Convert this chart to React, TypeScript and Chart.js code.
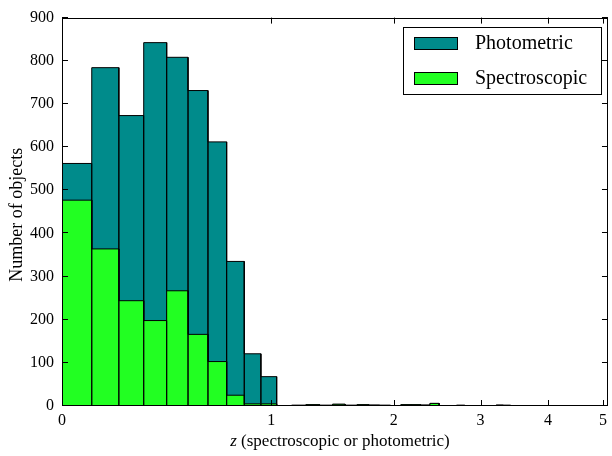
import React, { useEffect, useRef } from 'react';
import { Chart, registerables } from 'chart.js';

Chart.register(...registerables);

// ---------------- data ----------------
const BIN_WIDTH_Z = 0.1036; // width of each redshift bin
const SPECTROSCOPIC_COUNTS = [
  477, 364, 244, 198, 267, 166, 103, 25, 5, 5,
  0, 1, 3, 1, 4, 1, 3, 2, 1, 0,
  3, 3, 2, 6, 1, 0, 1, 0, 0, 0,
  1, 2, 1, 1, 0, 0, 0, 0, 0, 0,
  0, 0, 0, 1, 0, 0, 0, 0, 0,
];
const PHOTOMETRIC_COUNTS = [
  85, 420, 429, 644, 541, 565, 509, 310, 116, 63,
  0, 1, 0, 1, 0, 1, 0, 0, 1, 0,
  0, 0, 0, 0, 0, 0, 1, 0, 0, 0,
  0, 0, 1, 0, 0, 0, 0, 0, 0, 0,
  0, 0, 0, 0, 0, 0, 0, 0, 0,
];
const X_TICK_LABELS = [0, 1, 2, 3, 4, 5];
const Y_TICK_LABELS = [0, 100, 200, 300, 400, 500, 600, 700, 800, 900];
const X_MAX_Z = 5.1;
const Y_MAX = 900;
const SERIES_NAMES = ['Photometric', 'Spectroscopic'];
const X_LABEL_ITALIC = 'z';
const X_LABEL_REST = ' (spectroscopic or photometric)';
const Y_LABEL = 'Number of objects';

// ---------------- styles ----------------
const TEAL = '#008b8b';
const LIME = '#22ff22';
const FONT = '"Liberation Serif", "Times New Roman", serif';

const toAxis = (z: number) => Math.log10(1 + z);

function histPath(heights: number[]) {
  const pts: { x: number; y: number }[] = [];
  heights.forEach((h, i) => {
    const x0 = toAxis(i * BIN_WIDTH_Z);
    const x1 = toAxis((i + 1) * BIN_WIDTH_Z);
    pts.push({ x: x0, y: 0 }, { x: x0, y: h }, { x: x1, y: h }, { x: x1, y: 0 });
  });
  return pts;
}

const framePlugin = {
  id: 'frameAndLabels',
  afterDraw(chart: any) {
    const { ctx, chartArea } = chart;
    const { left, right, top, bottom } = chartArea;
    const xs = chart.scales.x;
    const ys = chart.scales.y;
    ctx.save();
    ctx.strokeStyle = '#000';
    ctx.lineWidth = 1;
    // frame
    ctx.strokeRect(Math.round(left) + 0.5, Math.round(top) + 0.5, Math.round(right - left) - 1, Math.round(bottom - top) - 1);
    // inward ticks
    const TL = 6;
    ctx.beginPath();
    X_TICK_LABELS.forEach((z) => {
      const px = Math.round(xs.getPixelForValue(toAxis(z))) + 0.5;
      ctx.moveTo(px, bottom);
      ctx.lineTo(px, bottom - TL);
      ctx.moveTo(px, top);
      ctx.lineTo(px, top + TL);
    });
    Y_TICK_LABELS.forEach((v) => {
      const py = Math.round(ys.getPixelForValue(v)) - 0.5;
      ctx.moveTo(left, py);
      ctx.lineTo(left + TL, py);
      ctx.moveTo(right, py);
      ctx.lineTo(right - TL, py);
    });
    ctx.stroke();

    // x label with italic z
    ctx.fillStyle = '#000';
    ctx.textBaseline = 'alphabetic';
    ctx.textAlign = 'left';
    const fsx = 17;
    ctx.font = `italic ${fsx}px ${FONT}`;
    const w1 = ctx.measureText(X_LABEL_ITALIC).width;
    ctx.font = `${fsx}px ${FONT}`;
    const w2 = ctx.measureText(X_LABEL_REST).width;
    const cx = (left + right) / 2 + 5;
    const x0 = cx - (w1 + w2) / 2;
    const baseY = bottom + 40;
    ctx.font = `italic ${fsx}px ${FONT}`;
    ctx.fillText(X_LABEL_ITALIC, x0, baseY);
    ctx.font = `${fsx}px ${FONT}`;
    ctx.fillText(X_LABEL_REST, x0 + w1, baseY);

    // y label
    ctx.save();
    ctx.translate(17, (top + bottom) / 2 + 3);
    ctx.rotate(-Math.PI / 2);
    ctx.textAlign = 'center';
    ctx.textBaseline = 'middle';
    ctx.font = `18px ${FONT}`;
    ctx.fillText(Y_LABEL, 0, 0);
    ctx.restore();

    // legend
    const bw = 198;
    const bh = 67;
    const bx = Math.round(right) - 7 - bw;
    const by = Math.round(top) + 9;
    ctx.fillStyle = '#fff';
    ctx.fillRect(bx, by, bw, bh);
    ctx.strokeRect(bx + 0.5, by + 0.5, bw, bh);
    const colors = [TEAL, LIME];
    SERIES_NAMES.forEach((name, i) => {
      const cy = by + 16 + i * 35;
      ctx.fillStyle = colors[i];
      ctx.fillRect(bx + 11, cy - 6, 43, 12);
      ctx.strokeRect(bx + 11.5, cy - 5.5, 43, 12);
      ctx.fillStyle = '#000';
      ctx.font = `20px ${FONT}`;
      ctx.textAlign = 'left';
      ctx.textBaseline = 'middle';
      ctx.fillText(name, bx + 72, cy + 1);
    });
    ctx.restore();
  },
};

export default function App() {
  const canvasRef = useRef<HTMLCanvasElement | null>(null);

  useEffect(() => {
    if (!canvasRef.current) return;
    const totals = PHOTOMETRIC_COUNTS.map((p, i) => p + SPECTROSCOPIC_COUNTS[i]);
    const chart = new Chart(canvasRef.current, {
      type: 'line',
      data: {
        datasets: [
          {
            label: SERIES_NAMES[1],
            data: histPath(SPECTROSCOPIC_COUNTS),
            backgroundColor: LIME,
            borderColor: '#000',
            borderWidth: 1,
            fill: 'origin',
            pointRadius: 0,
            tension: 0,
          },
          {
            label: SERIES_NAMES[0],
            data: histPath(totals),
            backgroundColor: TEAL,
            borderColor: '#000',
            borderWidth: 1,
            fill: 'origin',
            pointRadius: 0,
            tension: 0,
          },
        ],
      },
      options: {
        animation: false,
        responsive: false,
        devicePixelRatio: 1,
        layout: { padding: { left: 0, top: 15, right: 2, bottom: 0 } },
        plugins: { legend: { display: false }, tooltip: { enabled: false } },
        scales: {
          x: {
            type: 'linear',
            min: 0,
            max: toAxis(X_MAX_Z),
            grid: { display: false, drawTicks: false },
            border: { display: false },
            afterBuildTicks: (s: any) => {
              s.ticks = X_TICK_LABELS.map((z) => ({ value: toAxis(z) }));
            },
            afterFit: (s: any) => {
              s.height = 50;
            },
            ticks: {
              autoSkip: false,
              maxRotation: 0,
              padding: 5,
              color: '#000',
              font: { family: FONT, size: 16 },
              callback: (_v: any, i: number) => String(X_TICK_LABELS[i]),
            },
          },
          y: {
            type: 'linear',
            min: 0,
            max: Y_MAX,
            grid: { display: false, drawTicks: false },
            border: { display: false },
            afterBuildTicks: (s: any) => {
              s.ticks = Y_TICK_LABELS.map((v) => ({ value: v }));
            },
            afterFit: (s: any) => {
              s.width = 62;
            },
            ticks: {
              autoSkip: false,
              padding: 8,
              color: '#000',
              font: { family: FONT, size: 16 },
              callback: (v: any) => String(v),
            },
          },
        },
      } as any,
      plugins: [framePlugin],
    });
    return () => chart.destroy();
  }, []);

  return (
    <div style={{ position: 'fixed', left: 0, top: 0, width: 612, height: 456, background: '#fff' }}>
      <canvas ref={canvasRef} width={612} height={456} style={{ display: 'block', width: 612, height: 456 }} />
    </div>
  );
}
